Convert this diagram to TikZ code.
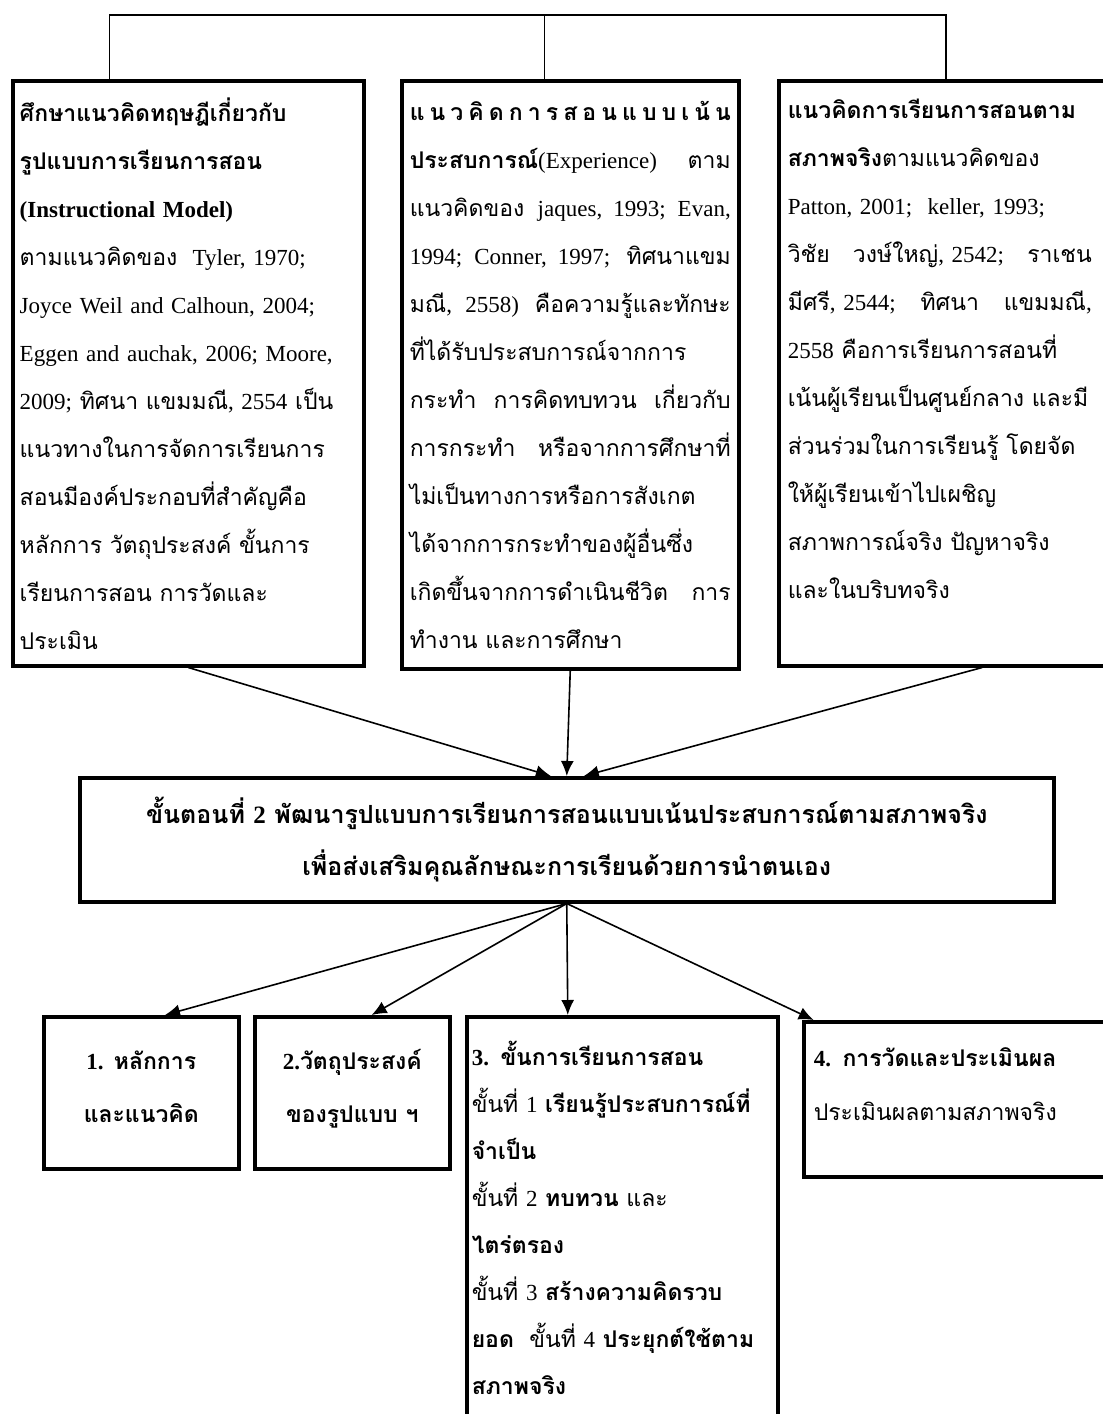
\documentclass[tikz,border=0pt]{standalone}
\usepackage{fontspec}
\setmainfont[Script=Thai]{Loma}
\newfontfamily\enfont{Liberation Serif}
\newcommand{\en}[1]{{\enfont #1}}
\usetikzlibrary{arrows.meta}

\tikzset{
  panel/.style={draw, line width=3.5pt, anchor=north west, inner sep=0pt,
    font=\fontsize{23}{48}\selectfont},
  link/.style={line width=1.6pt, -{Latex[length=15pt,width=13pt]}},
  bracket/.style={line width=1.6pt},
}

\begin{document}
\begin{tikzpicture}[x=1pt,y=-1pt]
  \useasboundingbox (0,0) rectangle (1103,1414);

  % sources of the model
  \node[panel, minimum width=351pt, minimum height=585pt, text width=337pt, align=left] (theory) at (11,79) {%
    \textbf{ศึกษาแนวคิดทฤษฎีเกี่ยวกับ}\\
    \textbf{รูปแบบการเรียนการสอน}\\
    \textbf{\en{(Instructional Model)}}\\
    ตามแนวคิดของ \en{ Tyler, 1970;}\\
    \en{Joyce Weil and Calhoun, 2004;}\\
    \en{Eggen and auchak, 2006; Moore,}\\
    \en{2009;} ทิศนา แขมมณี\en{, 2554} เป็น\\
    แนวทางในการจัดการเรียนการ\\
    สอนมีองค์ประกอบที่สำคัญคือ\\
    หลักการ วัตถุประสงค์ ขั้นการ\\
    เรียนการสอน การวัดและ\\
    ประเมิน};
  \node[panel, minimum width=337pt, minimum height=588pt, text width=321pt, align=justify] (concept) at (400,79) {%
    \makebox[\hsize][s]{\bfseries แ\hfil น\hfil ว\hfil คิ\hfil ด\hfil ก\hfil า\hfil ร\hfil ส\hfil อ\hfil น\hfil แ\hfil บ\hfil บ\hfil เ\hfil น้\hfil น}\break
    \textbf{ประสบการณ์}\en{(Experience)} ตาม\break
    แนวคิดของ \en{jaques, 1993; Evan,}\break
    \en{1994; Conner, 1997;} ทิศนาแขม\break
    มณี\en{, 2558)} คือความรู้และทักษะ\break
    ที่ได้รับประสบการณ์จากการ\break
    กระทำ การคิดทบทวน เกี่ยวกับ\break
    การกระทำ หรือจากการศึกษาที่\break
    ไม่เป็นทางการหรือการสังเกต\break
    ได้จากการกระทำของผู้อื่นซึ่ง\break
    เกิดขึ้นจากการดำเนินชีวิต การ\break
    ทำงาน และการศึกษา};
  \node[panel, minimum width=345pt, minimum height=585pt, text width=327pt, align=left] (real) at (777,79) {%
    \textbf{แนวคิดการเรียนการสอนตาม}\\
    \textbf{สภาพจริง}ตามแนวคิดของ\\
    \en{Patton, 2001;\ \ keller, 1993;}\\
    \makebox[304pt][s]{วิชัย\hfill วงษ์ใหญ่\en{, 2542;}\hfill ราเชน}\\
    \makebox[304pt][s]{มีศรี\en{, 2544;}\hfill ทิศนา\hfill แขมมณี\en{,}}\\
    \en{2558} คือการเรียนการสอนที่\\
    เน้นผู้เรียนเป็นศูนย์กลาง และมี\\
    ส่วนร่วมในการเรียนรู้ โดยจัด\\
    ให้ผู้เรียนเข้าไปเผชิญ\\
    สภาพการณ์จริง ปัญหาจริง\\
    และในบริบทจริง\\
    \mbox{}};

  % bracket over the three boxes
  \coordinate (hub) at (concept.95 |- 0,15);
  \draw[bracket] (theory.105) |- (hub) -| (real.91);
  \draw[bracket] (hub) -- (concept.95);

  % step 2
  \node[panel, minimum width=974pt, minimum height=124pt, align=center,
    font=\bfseries\fontsize{25}{52}\selectfont] (stage) at (78,776) {%
    ขั้นตอนที่ \en{2} พัฒนารูปแบบการเรียนการสอนแบบเน้นประสบการณ์ตามสภาพจริง\\
    เพื่อส่งเสริมคุณลักษณะการเรียนด้วยการนำตนเอง};

  \draw[link] (theory.south) -- (stage.104);
  \draw[link] (concept.south) -- (stage.north);
  \draw[link] (real.-84) -- (stage.75);

  % parts of the model
  \node[panel, minimum width=195pt, minimum height=152pt, align=center,
    font=\bfseries\fontsize{23}{53}\selectfont] (principle) at (42,1015) {\en{1.} หลักการ\\ และแนวคิด\\[-40pt]\mbox{}};
  \node[panel, minimum width=195pt, minimum height=152pt, align=center,
    font=\bfseries\fontsize{23}{53}\selectfont] (objective) at (253,1015) {\en{2.}วัตถุประสงค์\\ ของรูปแบบ ฯ\\[-40pt]\mbox{}};
  \node[panel, minimum width=311pt, minimum height=403pt, text width=301pt, align=left,
    font=\fontsize{23}{47}\selectfont] (steps) at (465,1015) {%
    \textbf{\en{3.} ขั้นการเรียนการสอน}\\
    ขั้นที่ \en{1} \textbf{เรียนรู้ประสบการณ์ที่}\\
    \textbf{จำเป็น}\\
    ขั้นที่ \en{2} \textbf{ทบทวน} และ\\
    \textbf{ไตร่ตรอง}\\
    ขั้นที่ \en{3} \textbf{สร้างความคิดรวบ}\\
    \textbf{ยอด}\ \ ขั้นที่ \en{4} \textbf{ประยุกต์ใช้ตาม}\\
    \textbf{สภาพจริง}};
  \node[panel, minimum width=318pt, minimum height=155pt, text width=298pt, align=left,
    font=\fontsize{23}{54}\selectfont] (assess) at (802,1020) {%
    \textbf{\en{4.} การวัดและประเมินผล}\\
    ประเมินผลตามสภาพจริง\\[-24pt]
    \mbox{}};

  \draw[link] (stage.south) -- (principle.73);
  \draw[link] (stage.south) -- (objective.76);
  \draw[link] (stage.south) -- (steps.105);
  \draw[link] (stage.south) -- (assess.152);

\end{tikzpicture}
\end{document}
